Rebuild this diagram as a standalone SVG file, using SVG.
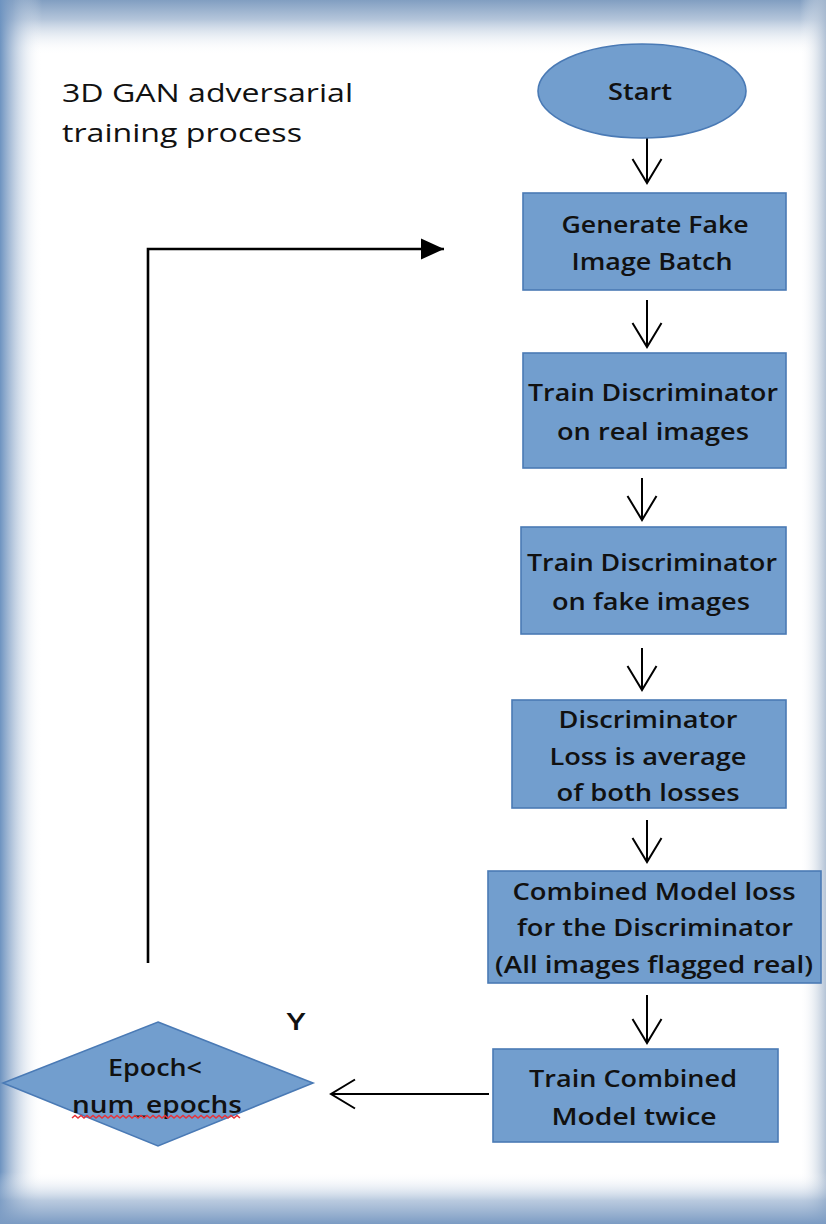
<svg xmlns="http://www.w3.org/2000/svg" width="826" height="1224" viewBox="0 0 826 1224">
  <style>
    .box { fill: #729ece; stroke: #4a7ab5; stroke-width: 1.6; }
    .lbl { font-family: "Open Sans", "Liberation Sans", sans-serif; font-size: 23px; font-weight: 600; fill: #111; text-anchor: middle; }
    .title { font-family: "Open Sans", "Liberation Sans", sans-serif; font-size: 26px; fill: #111; }
    .flow { fill: none; stroke: #000; stroke-width: 2; }
    .loop { fill: none; stroke: #000; stroke-width: 2.6; }
  </style>
  <defs>
    <linearGradient id="edgeTop" x1="0" y1="0" x2="0" y2="1">
      <stop offset="0" stop-color="#819ec1" stop-opacity="1"/>
      <stop offset="0.35" stop-color="#8aa5c6" stop-opacity="0.65"/>
      <stop offset="1" stop-color="#ffffff" stop-opacity="0"/>
    </linearGradient>
    <linearGradient id="edgeLeft" x1="0" y1="0" x2="1" y2="0">
      <stop offset="0" stop-color="#6d93c0" stop-opacity="1"/>
      <stop offset="0.3" stop-color="#86a3c7" stop-opacity="0.6"/>
      <stop offset="1" stop-color="#ffffff" stop-opacity="0"/>
    </linearGradient>
    <linearGradient id="edgeRight" x1="0" y1="0" x2="1" y2="0">
      <stop offset="0" stop-color="#ffffff" stop-opacity="0"/>
      <stop offset="1" stop-color="#a7b9cf" stop-opacity="0.85"/>
    </linearGradient>
    <linearGradient id="edgeBottom" x1="0" y1="0" x2="0" y2="1">
      <stop offset="0" stop-color="#ffffff" stop-opacity="0"/>
      <stop offset="0.55" stop-color="#8aa6c9" stop-opacity="0.6"/>
      <stop offset="1" stop-color="#7b9bc3" stop-opacity="1"/>
    </linearGradient>
    <marker id="vee" markerUnits="userSpaceOnUse" markerWidth="32" markerHeight="34" viewBox="-26 -17 32 34" refX="0" refY="0" orient="auto" overflow="visible">
      <path d="M-24,-14.5 L0,0 L-24,14.5" fill="none" stroke="#000" stroke-width="2"/>
    </marker>
    <marker id="tri" markerUnits="userSpaceOnUse" markerWidth="26" markerHeight="24" viewBox="-24 -12 26 24" refX="0" refY="0" orient="auto" overflow="visible">
      <path d="M-23,-10.5 L0,0 L-23,10.5 Z" fill="#000"/>
    </marker>
  </defs>

  <!-- page with soft blue edges -->
  <rect x="0" y="0" width="826" height="1224" fill="#ffffff"/>
  <rect x="0" y="0" width="826" height="55" fill="url(#edgeTop)"/>
  <rect x="0" y="0" width="42" height="1224" fill="url(#edgeLeft)"/>
  <rect x="800" y="0" width="26" height="1224" fill="url(#edgeRight)"/>
  <rect x="0" y="1172" width="826" height="52" fill="url(#edgeBottom)"/>

  <!-- title -->
  <g id="title">
    <text class="title" x="62" y="102" textLength="291" lengthAdjust="spacingAndGlyphs">3D GAN adversarial</text>
    <text class="title" x="62" y="142" textLength="240" lengthAdjust="spacingAndGlyphs">training process</text>
  </g>

  <!-- connectors -->
  <g id="connectors">
    <line class="flow" x1="647" y1="138" x2="647" y2="183" marker-end="url(#vee)"/>
    <line class="flow" x1="647" y1="300" x2="647" y2="347" marker-end="url(#vee)"/>
    <line class="flow" x1="642" y1="478" x2="642" y2="520" marker-end="url(#vee)"/>
    <line class="flow" x1="642" y1="648" x2="642" y2="690" marker-end="url(#vee)"/>
    <line class="flow" x1="647" y1="820" x2="647" y2="862" marker-end="url(#vee)"/>
    <line class="flow" x1="647" y1="995" x2="647" y2="1043" marker-end="url(#vee)"/>
    <line class="flow" x1="489" y1="1094" x2="331" y2="1094" marker-end="url(#vee)"/>
    <path class="loop" d="M148,963 V249 H444" marker-end="url(#tri)"/>
  </g>

  <g id="start">
    <ellipse class="box" cx="642" cy="91" rx="104" ry="47"/>
    <text class="lbl" x="640" y="100" font-size="22" font-weight="bold" textLength="64" lengthAdjust="spacingAndGlyphs">Start</text>
  </g>

  <g id="generate">
    <rect class="box" x="523" y="193" width="263" height="97"/>
    <text class="lbl" x="655" y="233" textLength="187" lengthAdjust="spacingAndGlyphs">Generate Fake</text>
    <text class="lbl" x="652" y="270" textLength="161" lengthAdjust="spacingAndGlyphs">Image Batch</text>
  </g>

  <g id="train-real">
    <rect class="box" x="523" y="353" width="263" height="115"/>
    <text class="lbl" x="653" y="401" textLength="250" lengthAdjust="spacingAndGlyphs">Train Discriminator</text>
    <text class="lbl" x="653" y="440" textLength="192" lengthAdjust="spacingAndGlyphs">on real images</text>
  </g>

  <g id="train-fake">
    <rect class="box" x="521" y="527" width="265" height="107"/>
    <text class="lbl" x="652" y="571" textLength="250" lengthAdjust="spacingAndGlyphs">Train Discriminator</text>
    <text class="lbl" x="651" y="610" textLength="198" lengthAdjust="spacingAndGlyphs">on fake images</text>
  </g>

  <g id="disc-loss">
    <rect class="box" x="512" y="700" width="274" height="108"/>
    <text class="lbl" x="648" y="728" textLength="179" lengthAdjust="spacingAndGlyphs">Discriminator</text>
    <text class="lbl" x="648" y="765" textLength="197" lengthAdjust="spacingAndGlyphs">Loss is average</text>
    <text class="lbl" x="648" y="801" textLength="183" lengthAdjust="spacingAndGlyphs">of both losses</text>
  </g>

  <g id="combined-loss">
    <rect class="box" x="488" y="871" width="333" height="112"/>
    <text class="lbl" x="654" y="900" textLength="283" lengthAdjust="spacingAndGlyphs">Combined Model loss</text>
    <text class="lbl" x="655" y="936" textLength="276" lengthAdjust="spacingAndGlyphs">for the Discriminator</text>
    <text class="lbl" x="654" y="973" textLength="318" lengthAdjust="spacingAndGlyphs">(All images flagged real)</text>
  </g>

  <g id="train-combined">
    <rect class="box" x="493" y="1049" width="285" height="93"/>
    <text class="lbl" x="633" y="1087" textLength="208" lengthAdjust="spacingAndGlyphs">Train Combined</text>
    <text class="lbl" x="634" y="1125" textLength="165" lengthAdjust="spacingAndGlyphs">Model twice</text>
  </g>

  <g id="epoch-check">
    <polygon class="box" points="158,1022 313,1083 158,1146 3,1083"/>
    <text class="lbl" x="155" y="1076" textLength="94" lengthAdjust="spacingAndGlyphs">Epoch&lt;</text>
    <text class="lbl" x="157" y="1113" textLength="170" lengthAdjust="spacingAndGlyphs">num_epochs</text>
    <!-- spell-check squiggle under the variable name -->
    <path d="M72,1118 l3,-2.5 l3,2.5 l3,-2.5 l3,2.5 l3,-2.5 l3,2.5 l3,-2.5 l3,2.5 l3,-2.5 l3,2.5 l3,-2.5 l3,2.5 l3,-2.5 l3,2.5 l3,-2.5 l3,2.5 l3,-2.5 l3,2.5 l3,-2.5 l3,2.5 l3,-2.5 l3,2.5 l3,-2.5 l3,2.5 l3,-2.5 l3,2.5 l3,-2.5 l3,2.5 l3,-2.5 l3,2.5 l3,-2.5 l3,2.5 l3,-2.5 l3,2.5 l3,-2.5 l3,2.5 l3,-2.5 l3,2.5 l3,-2.5 l3,2.5 l3,-2.5 l3,2.5 l3,-2.5 l3,2.5 l3,-2.5 l3,2.5 l3,-2.5 l3,2.5 l3,-2.5 l3,2.5 l3,-2.5 l3,2.5 l3,-2.5 l3,2.5 l3,-2.5 l3,2.5" fill="none" stroke="#e8333a" stroke-width="1.5"/>
  </g>

  <g id="yes-label">
    <text class="lbl" x="296" y="1030" font-size="21" font-weight="bold" textLength="19" lengthAdjust="spacingAndGlyphs">Y</text>
  </g>
</svg>
